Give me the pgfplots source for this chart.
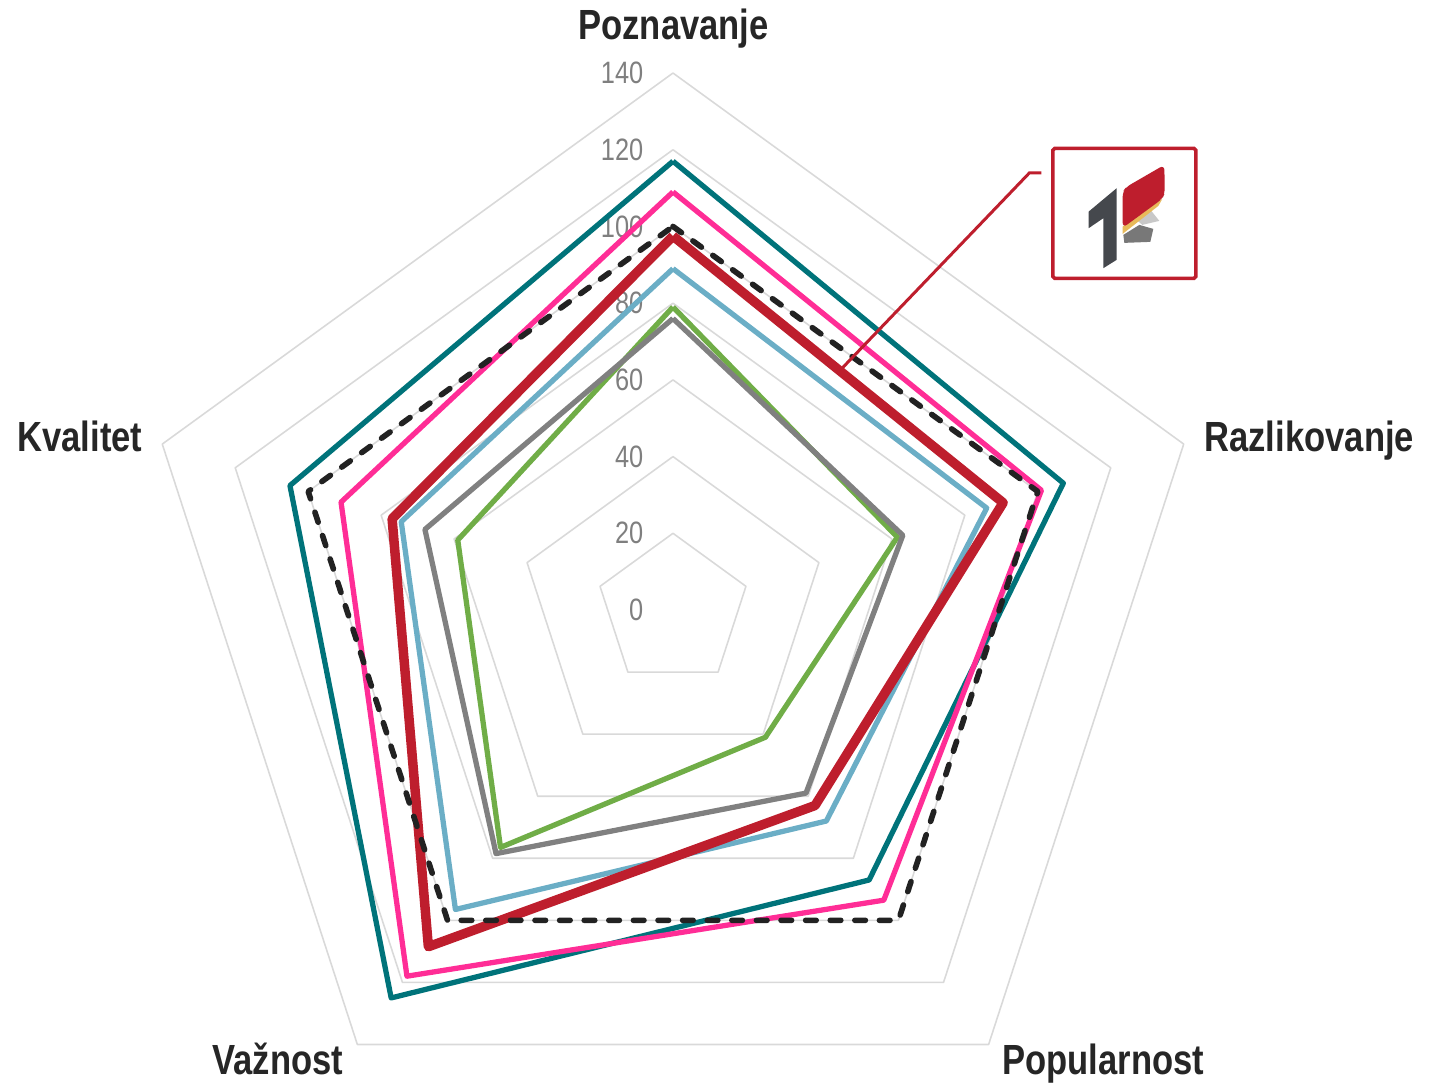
\documentclass[border=0pt]{standalone}
\usepackage{pgfplots}
\pgfplotsset{compat=1.18}
\usepgfplotslibrary{polar}
\usepackage{fontspec}
\setmainfont[FakeStretch=0.82]{Liberation Sans}
\definecolor{cteal}{RGB}{0,115,122}
\definecolor{cpink}{RGB}{255,45,150}
\definecolor{ccrim}{RGB}{190,30,45}
\definecolor{cblue}{RGB}{107,174,198}
\definecolor{cgray}{RGB}{128,128,128}
\definecolor{cgreen}{RGB}{112,173,71}
\definecolor{cdash}{RGB}{34,34,34}
\definecolor{cgrid}{RGB}{217,217,217}
\definecolor{ctick}{RGB}{127,127,127}
\definecolor{clabel}{RGB}{38,38,38}
\definecolor{logodark}{RGB}{69,72,77}
\definecolor{logoyel}{RGB}{232,186,90}
\definecolor{logolg}{RGB}{200,200,200}
\definecolor{logomg}{RGB}{120,120,120}
\newcommand\tickfont{\fontsize{8.8pt}{9pt}\selectfont}
\begin{document}
\begin{tikzpicture}
\useasboundingbox (0,0) rectangle (14.36cm,-10.87cm);
\begin{polaraxis}[
  at={(6.73cm,-6.10cm)}, anchor=center,
  width=10.74cm, height=10.74cm, scale only axis,
  ymin=0, ymax=140, xmin=0, xmax=360,
  hide axis, clip=false,
  every axis plot/.append style={line join=round, no markers}
]
% grid pentagons
\addplot[cgrid, line width=0.45pt] coordinates {(90,20)(18,20)(306,20)(234,20)(162,20)(90,20)};
\addplot[cgrid, line width=0.45pt] coordinates {(90,40)(18,40)(306,40)(234,40)(162,40)(90,40)};
\addplot[cgrid, line width=0.45pt] coordinates {(90,60)(18,60)(306,60)(234,60)(162,60)(90,60)};
\addplot[cgrid, line width=0.45pt] coordinates {(90,80)(18,80)(306,80)(234,80)(162,80)(90,80)};
\addplot[cgrid, line width=0.45pt] coordinates {(90,100)(18,100)(306,100)(234,100)(162,100)(90,100)};
\addplot[cgrid, line width=0.45pt] coordinates {(90,120)(18,120)(306,120)(234,120)(162,120)(90,120)};
\addplot[cgrid, line width=0.45pt] coordinates {(90,140)(18,140)(306,140)(234,140)(162,140)(90,140)};
% tick labels
\pgfplotsinvokeforeach{0,20,40,60,80,100,120,140}{
  \node[anchor=east, inner sep=0pt, xshift=-0.29cm, text=ctick, font=\tickfont] at (axis cs:90,#1) {#1};
}
% series: Poznavanje, Razlikovanje, Popularnost, Vaznost, Kvalitet
\addplot[cgreen, line width=1.5pt] coordinates {(90,79)(18,61.5)(306,41)(234,76.5)(162,59)(90,79)};
\addplot[cgray, line width=1.5pt] coordinates {(90,76)(18,63)(306,59)(234,78.5)(162,68)(90,76)};
\addplot[cblue, line width=1.5pt] coordinates {(90,89)(18,86)(306,68)(234,96.5)(162,74.5)(90,89)};
\addplot[cteal, line width=1.5pt] coordinates {(90,117)(18,107)(306,87)(234,125)(162,105)(90,117)};
\addplot[cpink, line width=1.5pt] coordinates {(90,109)(18,101)(306,93.5)(234,118)(162,91)(90,109)};
\addplot[ccrim, line width=2.7pt] coordinates {(90,97.5)(18,90.5)(306,63)(234,108.5)(162,77)(90,97.5)};
\addplot[cdash, line width=1.6pt, line cap=round, dash pattern=on 3pt off 4pt] coordinates {(90,100)(18,100)(306,100)(234,100)(162,100)(90,100)};
\end{polaraxis}
\begin{scope}[x=0.01cm,y=-0.01cm]
% category labels
\tikzset{cat/.style={anchor=base, inner sep=0pt, text=clabel, font=\fontsize{12pt}{14pt}\selectfont\bfseries}}
\node[cat] at (674,40) {Poznavanje};
\node[cat] at (1310,452) {Razlikovanje};
\node[cat] at (1104,1075) {Popularnost};
\node[cat] at (278,1075) {Važnost};
\node[cat] at (80,452) {Kvalitet};
% leader line and logo
\draw[ccrim, line width=0.85pt] (843,368) -- (1030,173) -- (1042,173);
\draw[ccrim, line width=1.0pt, rounded corners=0.5pt, fill=white] (1053.5,148.5) rectangle (1196.5,278.5);
\fill[logodark] (1089.3,211.7) -- (1117.3,188.3) -- (1117.3,260) -- (1104,268.3) -- (1104,218.3) -- (1089.3,228.3) -- cycle;
\fill[logolg] (1136,219) -- (1152,211) -- (1160,221) -- (1143,225) -- cycle;
\fill[logomg] (1124,235) -- (1140,225) -- (1154,229) -- (1151,242) -- (1125,243) -- cycle;
\fill[logoyel] (1123.3,226.7) -- (1163,199) -- (1159,206) -- (1123.3,234) -- cycle;
\fill[ccrim, rounded corners=1.5pt] (1123.3,228) -- (1123.3,192) -- (1127,187) -- (1165,165) -- (1165.5,193) -- (1163,199) -- cycle;
\end{scope}
\end{tikzpicture}
\end{document}
